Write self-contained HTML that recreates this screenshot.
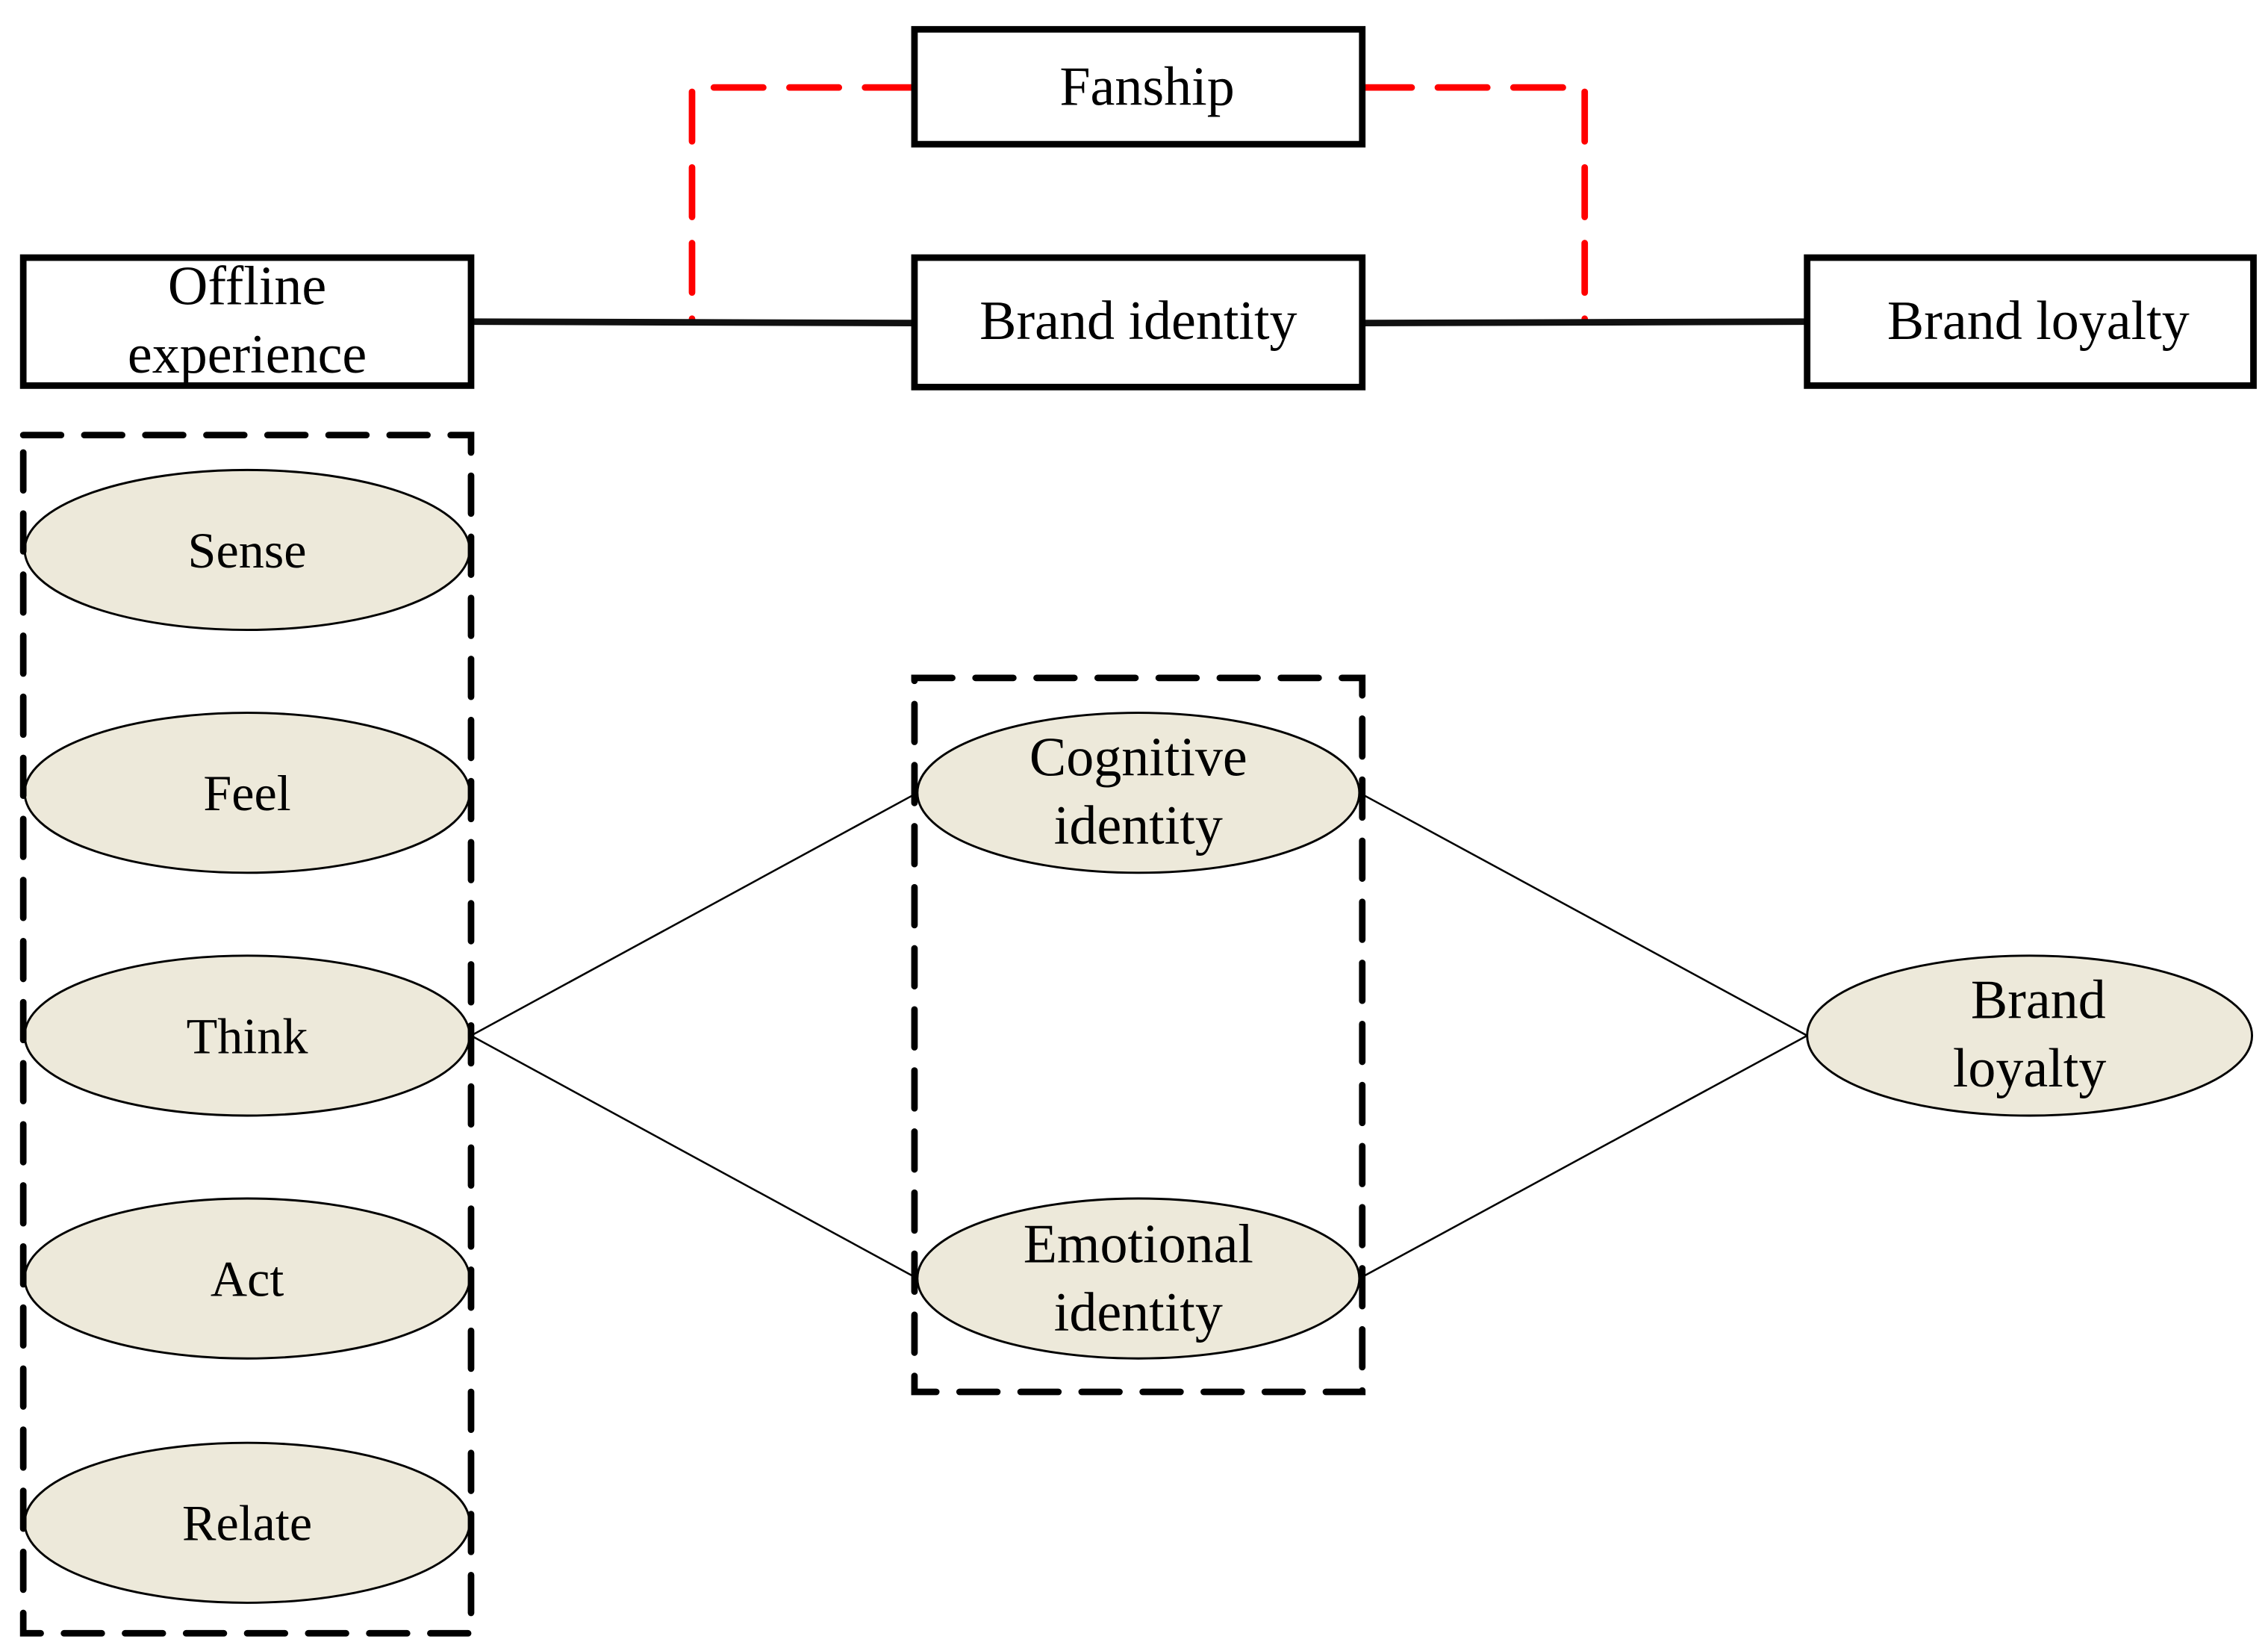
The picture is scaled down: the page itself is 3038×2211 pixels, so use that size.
<!DOCTYPE html>
<html><head><meta charset="utf-8"><style>
html,body{margin:0;padding:0;background:#fff;}
svg{display:block;}
text{font-family:"Liberation Serif",serif;fill:#000;}
</style></head><body>
<svg width="3038" height="2211" viewBox="0 0 1560 1135" xmlns="http://www.w3.org/2000/svg">
<rect width="1560" height="1135" fill="#fff"/>
<g stroke="#f00" stroke-width="4.5" fill="none" stroke-dasharray="34,18" stroke-linecap="round">
<polyline points="629,60 476,60 476,221"/>
<polyline points="937,60 1090,60 1090,221"/>
</g>
<g stroke="#111" stroke-width="4.5">
<line x1="324" y1="221" x2="629" y2="222"/>
<line x1="937" y1="222" x2="1243" y2="221"/>
</g>
<g stroke="#000" stroke-width="4.5" fill="#fff">
<rect x="629" y="20" width="308" height="79"/>
<rect x="16" y="177" width="308" height="88"/>
<rect x="629" y="177" width="308" height="89"/>
<rect x="1243" y="177" width="307" height="88"/>
</g>
<g font-size="38" text-anchor="middle">
<text x="789" y="72">Fanship</text>
<text x="170" y="209">Offline</text>
<text x="170" y="256">experience</text>
<text x="783" y="233">Brand identity</text>
<text x="1402" y="233">Brand loyalty</text>
</g>
<g stroke="#000" stroke-width="1.3">
<line x1="324" y1="712" x2="631" y2="545"/>
<line x1="324" y1="712" x2="631" y2="879"/>
<line x1="935" y1="545" x2="1243" y2="712"/>
<line x1="935" y1="879" x2="1243" y2="712"/>
</g>
<g fill="#ede9da" stroke="#000" stroke-width="1.5">
<ellipse cx="170" cy="378" rx="153" ry="55"/>
<ellipse cx="170" cy="545" rx="153" ry="55"/>
<ellipse cx="170" cy="712" rx="153" ry="55"/>
<ellipse cx="170" cy="879" rx="153" ry="55"/>
<ellipse cx="170" cy="1047" rx="153" ry="55"/>
<ellipse cx="783" cy="545" rx="152" ry="55"/>
<ellipse cx="783" cy="879" rx="152" ry="55"/>
<ellipse cx="1396" cy="712" rx="153" ry="55"/>
</g>
<g stroke="#000" stroke-width="4.5" fill="none" stroke-dasharray="26,16" stroke-linecap="round">
<rect x="16" y="299" width="308" height="824"/>
<rect x="629" y="466" width="308" height="491"/>
</g>
<g font-size="35" text-anchor="middle">
<text x="170" y="390">Sense</text>
<text x="170" y="557">Feel</text>
<text x="170" y="724">Think</text>
<text x="170" y="891">Act</text>
<text x="170" y="1059">Relate</text>
</g>
<g font-size="38" text-anchor="middle">
<text x="783" y="533">Cognitive</text>
<text x="783" y="580">identity</text>
<text x="783" y="868">Emotional</text>
<text x="783" y="915">identity</text>
<text x="1402" y="700">Brand</text>
<text x="1396" y="747">loyalty</text>
</g>
</svg>
</body></html>
